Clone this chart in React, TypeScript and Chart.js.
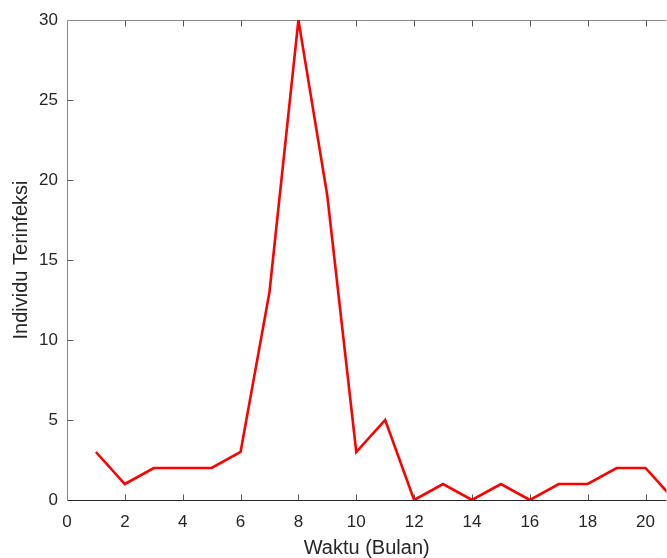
import React, { useEffect, useRef } from "react";
import { Chart, registerables } from "chart.js";

Chart.register(...registerables);

const months = [1, 2, 3, 4, 5, 6, 7, 8, 9, 10, 11, 12, 13, 14, 15, 16, 17, 18, 19, 20, 21];
const infected = [3, 1, 2, 2, 2, 3, 13, 30, 19, 3, 5, 0, 1, 0, 1, 0, 1, 1, 2, 2, 0];
const xTickValues = [0, 2, 4, 6, 8, 10, 12, 14, 16, 18, 20];
const yTickValues = [0, 5, 10, 15, 20, 25, 30];
const xTitle = "Waktu (Bulan)";
const yTitle = "Individu Terinfeksi";

const FONT = "'Liberation Sans', Arial, Helvetica, sans-serif";
const TEXT = "#262626";

const axesPlugin = {
  id: "matlabAxes",
  beforeDatasetsDraw(chart: any) {
    const { ctx, chartArea, scales } = chart;
    const x = scales.x;
    const y = scales.y;
    const L = Math.round(chartArea.left) + 0.5;
    const T = Math.round(chartArea.top) + 0.5;
    const B = Math.round(chartArea.bottom) + 0.5;
    const R = chartArea.right;
    const tl = 6;
    ctx.save();
    ctx.lineWidth = 1;
    // top border
    ctx.strokeStyle = "#8a8a8a";
    ctx.beginPath();
    ctx.moveTo(L, T);
    ctx.lineTo(R, T);
    ctx.stroke();
    // left axis
    ctx.beginPath();
    ctx.moveTo(L, T);
    ctx.lineTo(L, B);
    ctx.stroke();
    // bottom axis
    ctx.strokeStyle = "#262626";
    ctx.beginPath();
    ctx.moveTo(L, B);
    ctx.lineTo(R, B);
    ctx.stroke();
    // x ticks (bottom & top, inward)
    ctx.strokeStyle = "#555555";
    ctx.beginPath();
    for (const t of x.ticks) {
      const px = Math.round(x.getPixelForValue(t.value)) + 0.5;
      if (px < L + 1) continue;
      ctx.moveTo(px, B);
      ctx.lineTo(px, B - tl);
      ctx.moveTo(px, T);
      ctx.lineTo(px, T + tl);
    }
    // y ticks inward
    for (const t of y.ticks) {
      const py = Math.round(y.getPixelForValue(t.value)) + 0.5;
      if (py > B - 1 || py < T + 1) continue;
      ctx.moveTo(L, py);
      ctx.lineTo(L + tl, py);
    }
    ctx.stroke();
    ctx.restore();
  },
};

export default function App() {
  const ref = useRef<HTMLCanvasElement>(null);
  useEffect(() => {
    if (!ref.current) return;
    const chart = new Chart(ref.current, {
      type: "line",
      data: {
        datasets: [
          {
            data: months.map((m, i) => ({ x: m, y: infected[i] })),
            borderColor: "#ff0000",
            borderWidth: 2.6,
            pointRadius: 0,
            fill: false,
            tension: 0,
          },
        ],
      },
      options: {
        responsive: false,
        animation: false,
        layout: { padding: { top: 20, right: 0, left: 0, bottom: 0 } },
        plugins: { legend: { display: false }, tooltip: { enabled: false } },
        scales: {
          x: {
            type: "linear",
            min: 0,
            max: 20.72,
            afterFit: (s: any) => {
              s.height = 58;
            },
            afterBuildTicks: (s: any) => {
              s.ticks = xTickValues.map((v) => ({ value: v }));
            },
            grid: { display: false, drawTicks: false },
            border: { display: false },
            ticks: {
              includeBounds: false,
              autoSkip: false,
              maxRotation: 0,
              padding: 12,
              color: TEXT,
              font: { family: FONT, size: 17 },
            },
            title: {
              display: true,
              text: xTitle,
              color: TEXT,
              font: { family: FONT, size: 20, lineHeight: 1 },
              padding: { top: 0, bottom: 0 },
            },
          },
          y: {
            type: "linear",
            min: 0,
            max: 30,
            afterFit: (s: any) => {
              s.width = 67;
            },
            afterBuildTicks: (s: any) => {
              s.ticks = yTickValues.map((v) => ({ value: v }));
            },
            grid: { display: false, drawTicks: false },
            border: { display: false },
            ticks: {
              autoSkip: false,
              padding: 9,
              color: TEXT,
              font: { family: FONT, size: 17 },
            },
            title: {
              display: true,
              text: yTitle,
              color: TEXT,
              font: { family: FONT, size: 20, lineHeight: 1 },
              padding: { top: 11, bottom: 0 },
            },
          },
        },
      },
      plugins: [axesPlugin],
    });
    return () => chart.destroy();
  }, []);
  return (
    <div style={{ position: "fixed", left: 0, top: 0, width: 667, height: 558, background: "#fff" }}>
      <canvas ref={ref} width={667} height={558} style={{ width: 667, height: 558, display: "block" }} />
    </div>
  );
}
